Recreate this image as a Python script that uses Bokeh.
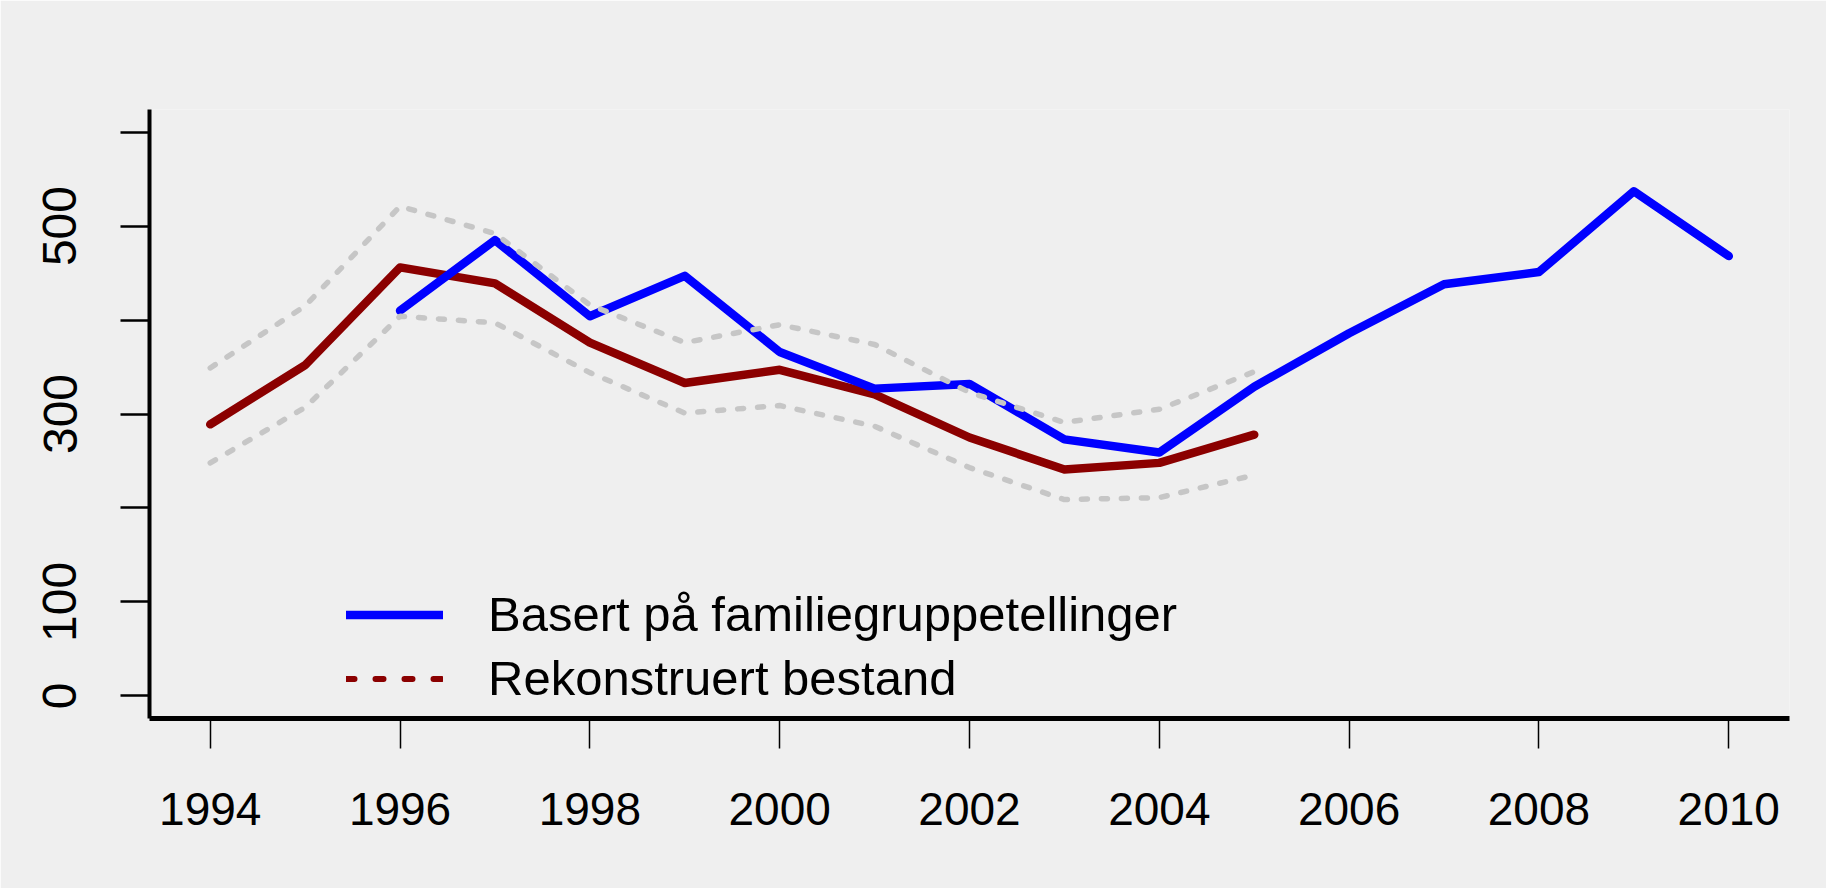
import math
from bokeh.plotting import figure
from bokeh.models import Range1d, FixedTicker, Legend, LegendItem
from bokeh.embed import file_html
from bokeh.resources import INLINE

# ---- data ----
years_counts = [1996, 1997, 1998, 1999, 2000, 2001, 2002, 2003, 2004, 2005, 2006, 2007, 2008, 2009, 2010]
counts = [410, 485, 404, 447, 366, 327, 332, 273, 259, 329, 386, 438, 451, 537, 468]

years_recon = [1994, 1995, 1996, 1997, 1998, 1999, 2000, 2001, 2002, 2003, 2004, 2005]
recon = [289, 352, 456, 439, 376, 333, 347, 321, 275, 241, 248, 278]
recon_upper = [349, 415, 521, 492, 416, 376, 395, 374, 323, 291, 305, 345]
recon_lower = [248, 307, 404, 397, 344, 301, 309, 287, 243, 209, 211, 235]

x_ticks = [1994, 1996, 1998, 2000, 2002, 2004, 2006, 2008, 2010]
y_ticks = [0, 100, 200, 300, 400, 500, 600]
y_labels = {0: "0", 100: "100", 200: "", 300: "300", 400: "", 500: "500", 600: ""}

label_blue = "Basert på familiegruppetellinger"
label_red = "Rekonstruert bestand"

BG = "#efefef"
FONT = "Liberation Sans"

p = figure(frame_width=1640, frame_height=609,
           min_border_left=149, min_border_right=37,
           min_border_top=109, min_border_bottom=170,
           x_range=Range1d(1993.36, 2010.64), y_range=Range1d(-24, 624),
           output_backend="svg", toolbar_location=None,
           background_fill_color=BG, border_fill_color=BG)
p.outline_line_color = None
p.grid.visible = False

# x axis
xa = p.xaxis[0]
xa.ticker = FixedTicker(ticks=x_ticks)
xa.axis_line_width = 5
xa.axis_line_color = "black"
xa.major_tick_in = 0
xa.major_tick_out = 30
xa.major_tick_line_width = 1.5
xa.minor_tick_out = 0
xa.minor_tick_in = 0
xa.major_label_text_font = FONT
xa.major_label_text_font_size = "46px"
xa.major_label_text_color = "black"
xa.major_label_standoff = 44

# y axis
ya = p.yaxis[0]
ya.ticker = FixedTicker(ticks=y_ticks)
ya.major_label_overrides = {k: v for k, v in y_labels.items()}
ya.axis_line_width = 4
ya.axis_line_color = "black"
ya.major_tick_in = 0
ya.major_tick_out = 29
ya.major_tick_line_width = 2.5
ya.minor_tick_out = 0
ya.minor_tick_in = 0
ya.major_label_orientation = "parallel"
ya.major_label_text_font = FONT
ya.major_label_text_font_size = "48px"
ya.major_label_text_color = "black"
ya.major_label_standoff = 44

# dotted red proxy for the legend (hidden under the solid red line)
r_red_dotted = p.line(years_recon, recon, line_color="#8b0000", line_width=6,
                      line_dash="8 21", line_cap="round")
r_red = p.line(years_recon, recon, line_color="#8b0000", line_width=8.5,
               line_join="round", line_cap="round")
r_blue = p.line(years_counts, counts, line_color="#0000ff", line_width=8.5,
                line_join="round", line_cap="round")
p.line(years_recon, recon_upper, line_color="#c6c6c6", line_width=5.5, line_dash="6 14", line_cap="round")
p.line(years_recon, recon_lower, line_color="#c6c6c6", line_width=5.5, line_dash="6 14", line_cap="round")

legend = Legend(items=[LegendItem(label=label_blue, renderers=[r_blue]),
                       LegendItem(label=label_red, renderers=[r_red_dotted])],
                location=(197, 12), glyph_width=97, glyph_height=53,
                label_height=53, spacing=8, padding=0, margin=0,
                label_standoff=45, border_line_color=None,
                background_fill_alpha=0,
                label_text_font=FONT, label_text_font_size="49px",
                label_text_color="black")
p.add_layout(legend)

open("out.html", "w").write(file_html(p, INLINE))
